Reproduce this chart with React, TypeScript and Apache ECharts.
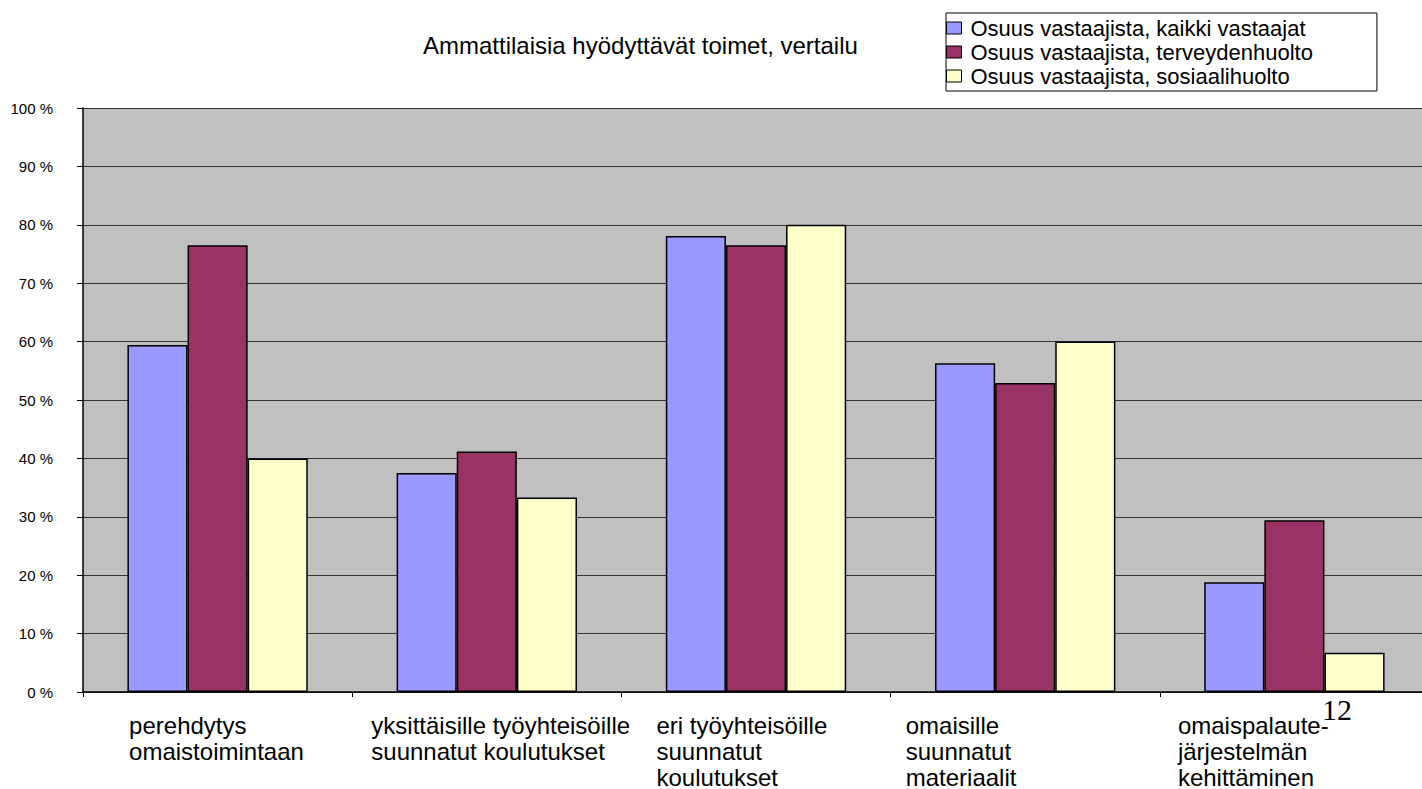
import React, { useEffect, useRef } from "react";
import * as echarts from "echarts";

const categories = [
  "perehdytys\nomaistoimintaan",
  "yksittäisille työyhteisöille\nsuunnatut koulutukset",
  "eri työyhteisöille\nsuunnatut\nkoulutukset",
  "omaisille\nsuunnatut\nmateriaalit",
  "omaispalaute-\njärjestelmän\nkehittäminen",
];
const seriesNames = [
  "Osuus vastaajista, kaikki vastaajat",
  "Osuus vastaajista, terveydenhuolto",
  "Osuus vastaajista, sosiaalihuolto",
];
const allRespondents = [59.4, 37.5, 78.1, 56.3, 18.8];
const healthCare = [76.5, 41.2, 76.5, 52.9, 29.4];
const socialCare = [40.0, 33.3, 80.0, 60.0, 6.7];
const yTicks = [0, 10, 20, 30, 40, 50, 60, 70, 80, 90, 100];
const titleText = "Ammattilaisia hyödyttävät toimet, vertailu";
const pageNumber = "12";

const colors = ["#9999FF", "#993366", "#FFFFCC"];
const labelBlockWidths = [177, 231, 199, 239, 233];

export default function App() {
  const ref = useRef<HTMLDivElement>(null);
  useEffect(() => {
    if (!ref.current) return;
    const chart = echarts.init(ref.current, null, { renderer: "svg" });
    const rich: Record<string, any> = {};
    labelBlockWidths.forEach((w, i) => {
      rich["c" + i] = {
        width: w,
        align: "left",
        fontSize: 24,
        lineHeight: 26,
        fontFamily: "Liberation Sans, Arial, sans-serif",
        color: "#000",
      };
    });
    const data = [allRespondents, healthCare, socialCare];
    chart.setOption({
      animation: false,
      backgroundColor: "#ffffff",
      title: {
        text: titleText,
        left: 423,
        top: 33,
        padding: 0,
        textStyle: {
          fontSize: 24,
          fontWeight: "normal",
          color: "#000",
          fontFamily: "Liberation Sans, Arial, sans-serif",
        },
      },
      legend: {
        orient: "vertical",
        left: 946,
        top: 13,
        padding: [3, 64, 3, 0],
        itemGap: 0,
        itemWidth: 15,
        itemHeight: 12,
        borderColor: "#000",
        borderWidth: 1,
        backgroundColor: "#fff",
        icon: "rect",
        data: seriesNames,
        itemStyle: { borderColor: "#000", borderWidth: 1 },
        textStyle: {
          fontSize: 22,
          lineHeight: 24,
          padding: [0, 0, 0, 4],
          color: "#000",
          fontFamily: "Liberation Sans, Arial, sans-serif",
        },
      },
      grid: {
        left: 83,
        right: 3,
        top: 108,
        bottom: 89,
        show: true,
        backgroundColor: "#C0C0C0",
        borderWidth: 0,
      },
      xAxis: {
        type: "category",
        data: categories,
        axisLine: { lineStyle: { color: "#000", width: 1.5 } },
        axisTick: { show: true, length: 5, lineStyle: { color: "#000" } },
        axisLabel: {
          interval: 0,
          margin: 20,
          align: "center",
          verticalAlign: "top",
          formatter: (value: string, idx: number) =>
            value
              .split("\n")
              .map((l) => `{c${idx}|${l}}`)
              .join("\n"),
          rich,
        },
      },
      yAxis: {
        type: "value",
        min: 0,
        max: 100,
        interval: 10,
        axisLine: { show: true, lineStyle: { color: "#000", width: 1.5 } },
        axisTick: { show: true, length: 6, lineStyle: { color: "#000" } },
        splitLine: { lineStyle: { color: "#333", width: 1 } },
        axisLabel: {
          margin: 30,
          fontSize: 15,
          color: "#000",
          fontFamily: "Liberation Sans, Arial, sans-serif",
          formatter: (v: number) => (yTicks.includes(v) ? `${v} %` : ""),
        },
      },
      series: seriesNames.map((name, i) => ({
        name,
        type: "bar",
        data: data[i],
        barGap: "0%",
        barCategoryGap: "33%",
        itemStyle: { color: colors[i], borderColor: "#000", borderWidth: 1.5 },
      })),
      graphic: [
        {
          type: "text",
          left: 1322,
          top: 694,
          z: 100,
          style: {
            text: pageNumber,
            fontSize: 30,
            fontFamily: "Liberation Serif, Times New Roman, serif",
            fill: "#000",
          },
        },
      ],
    });
    return () => chart.dispose();
  }, []);
  return (
    <div
      style={{
        position: "fixed",
        left: 0,
        top: 0,
        width: 1422,
        height: 789,
        overflow: "hidden",
        background: "#fff",
      }}
    >
      <div ref={ref} style={{ width: 1432, height: 789 }} />
    </div>
  );
}
